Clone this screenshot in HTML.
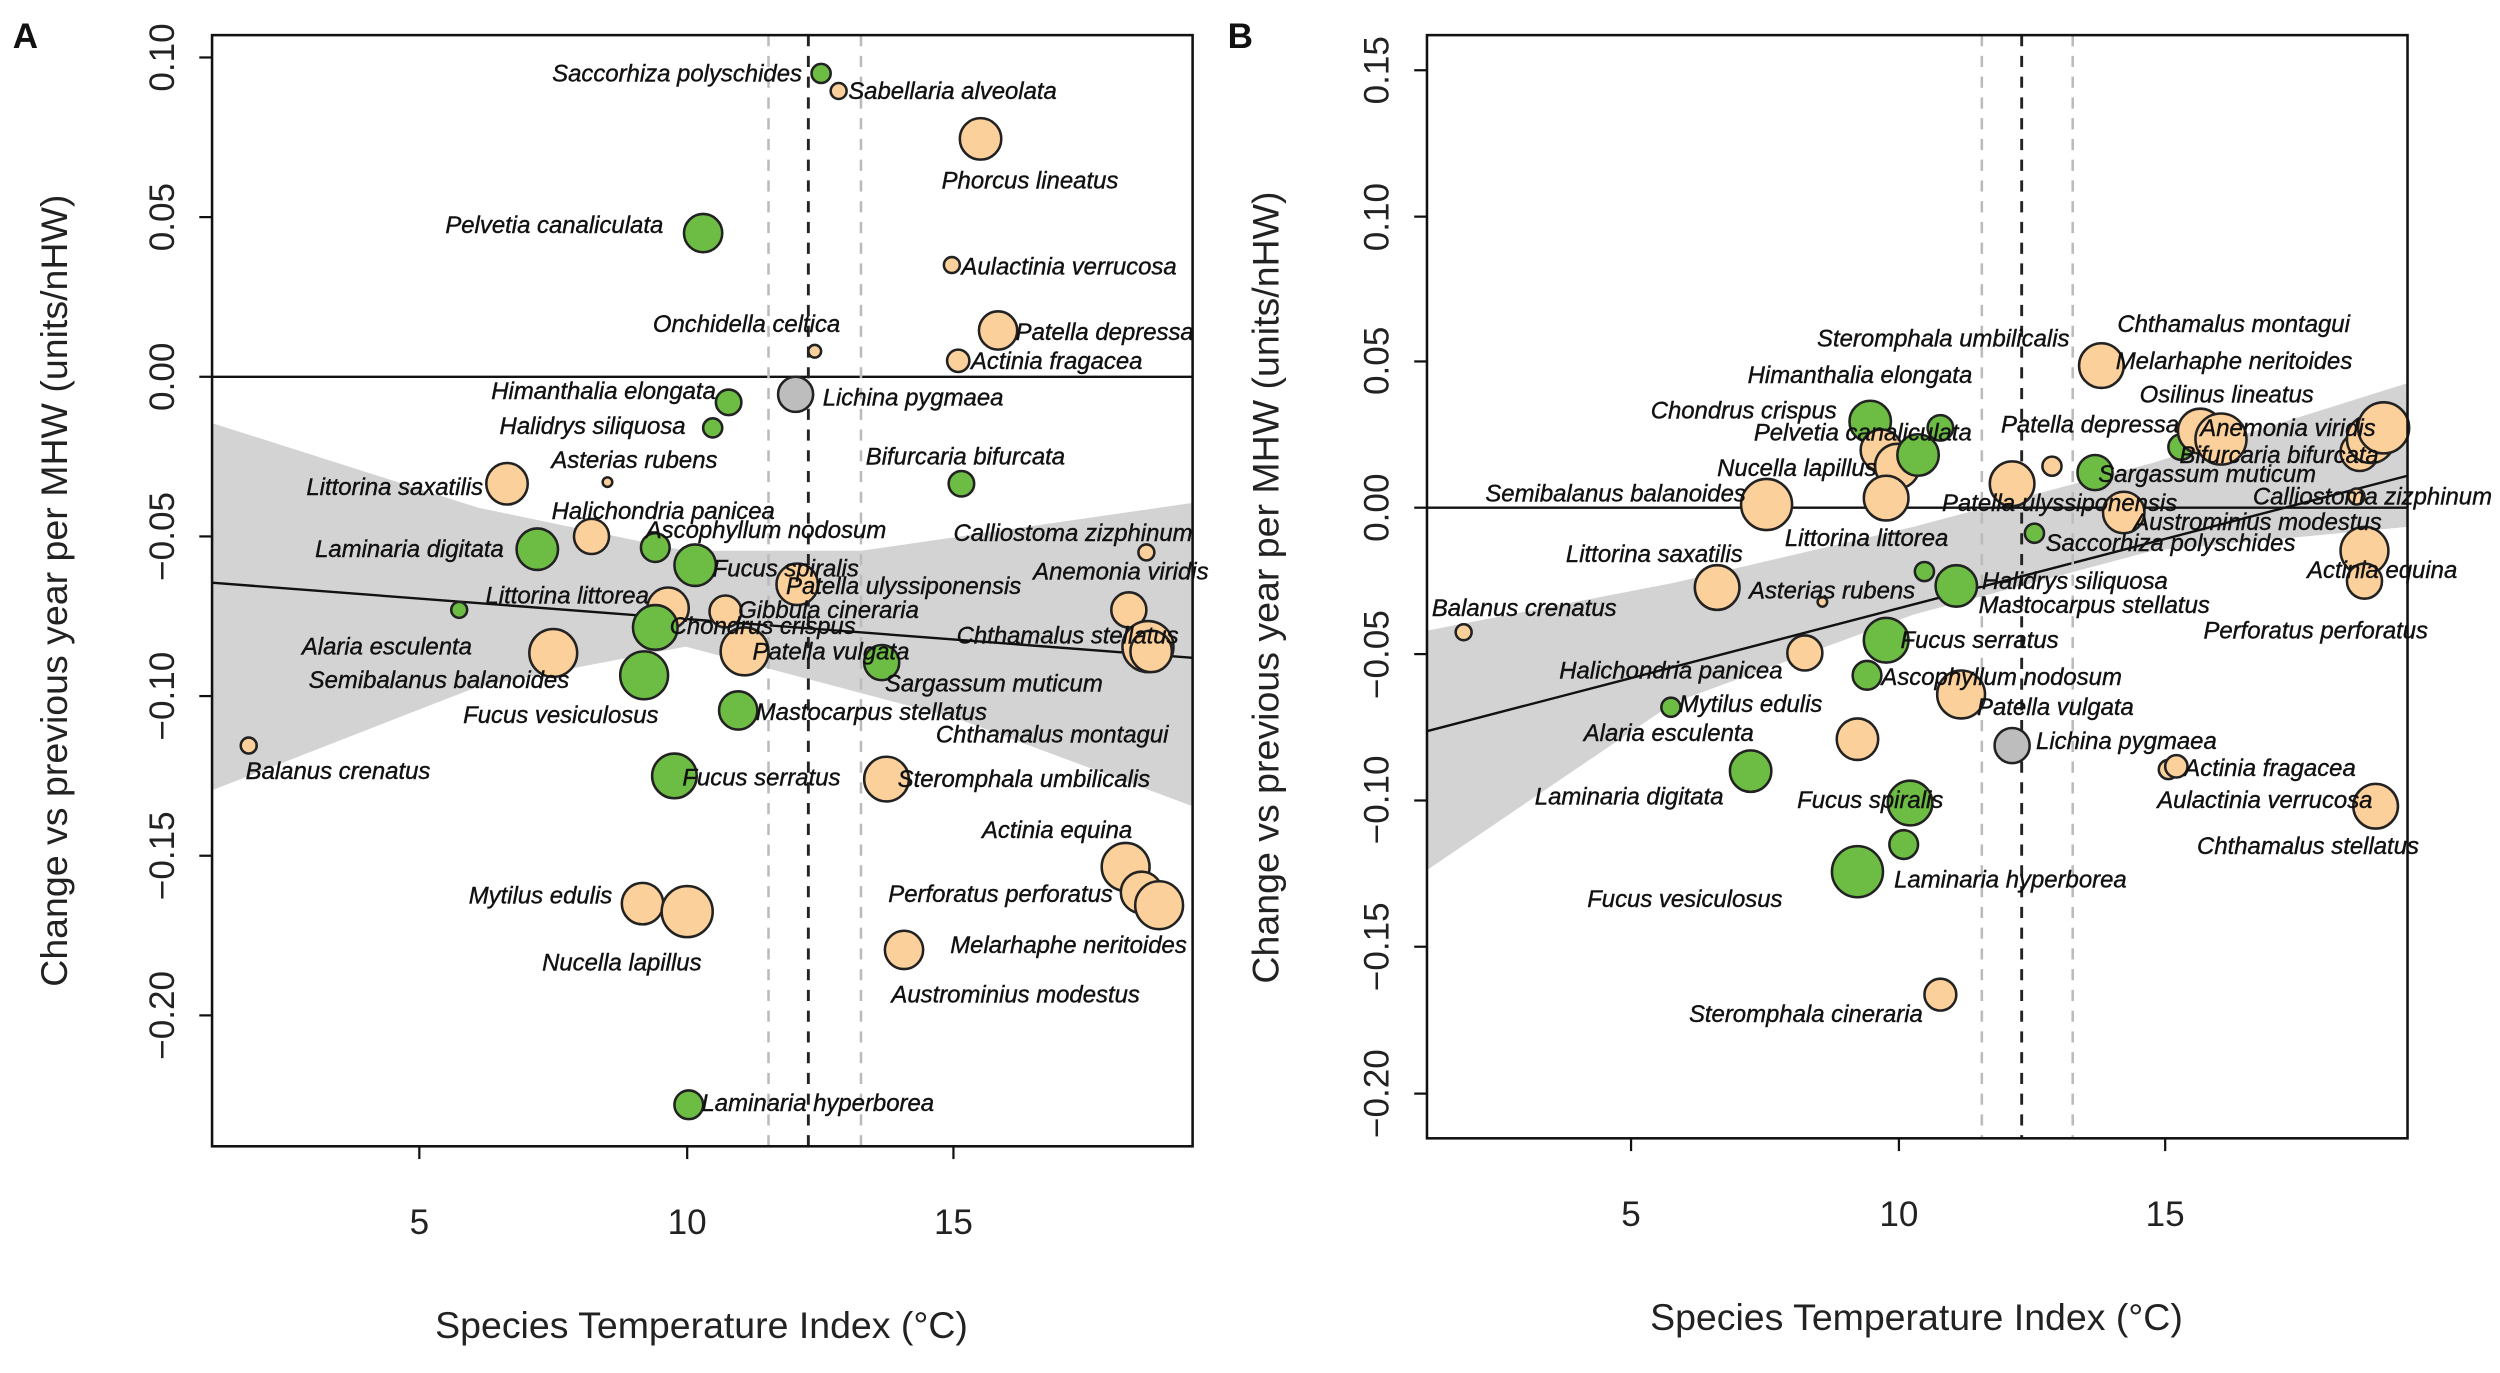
<!DOCTYPE html>
<html><head><meta charset="utf-8"><style>
html,body{margin:0;padding:0;background:#fff;}
svg{display:block;}
.l{font-family:"Liberation Sans",sans-serif;font-style:italic;font-size:15px;fill:#111;stroke:#111;stroke-width:0.25;}
.t{font-family:"Liberation Sans",sans-serif;font-size:22px;fill:#222;}
.a{font-family:"Liberation Sans",sans-serif;font-size:23.5px;fill:#222;}
.o{fill:#fcd09b;stroke:#222;stroke-width:1.6;}
.g{fill:#6dbd45;stroke:#222;stroke-width:1.6;}
.k{fill:#bdbdbd;stroke:#222;stroke-width:1.6;}
</style></head><body>
<svg width="2500" height="1373" viewBox="0 0 1568 860" preserveAspectRatio="none" xmlns="http://www.w3.org/2000/svg">
<rect width="1568" height="860" fill="#fff"/>
<!-- Panel A -->
<text x="8" y="30" font-family="Liberation Sans,sans-serif" font-weight="bold" font-size="22" fill="#111">A</text>
<polygon points="133,265 300,318 430,345 540,345 748,315 748,505 600,450 430,405 300,430 133,495" fill="#d3d3d3"/>
<line x1="133" y1="236" x2="748" y2="236" stroke="#111" stroke-width="1.5"/>
<line x1="133" y1="365" x2="748" y2="412" stroke="#111" stroke-width="1.5"/>
<line x1="482" y1="22" x2="482" y2="718" stroke="#bbb" stroke-width="1.6" stroke-dasharray="7,6"/>
<line x1="540" y1="22" x2="540" y2="718" stroke="#bbb" stroke-width="1.6" stroke-dasharray="7,6"/>
<line x1="507" y1="22" x2="507" y2="718" stroke="#222" stroke-width="1.8" stroke-dasharray="7,6"/>
<g>
<circle class="g" cx="515" cy="46" r="6"/><circle class="o" cx="526" cy="57" r="5"/>
<circle class="o" cx="615" cy="87" r="13"/><circle class="g" cx="441" cy="146" r="12"/>
<circle class="o" cx="597" cy="166" r="5"/><circle class="o" cx="511" cy="220" r="4"/>
<circle class="o" cx="626" cy="207" r="12"/><circle class="o" cx="601" cy="226" r="7"/>
<circle class="k" cx="499" cy="247" r="11"/><circle class="g" cx="457" cy="252" r="8"/>
<circle class="g" cx="447" cy="268" r="6"/><circle class="o" cx="381" cy="302" r="3"/>
<circle class="g" cx="603" cy="303" r="8"/><circle class="o" cx="318" cy="303" r="13"/>
<circle class="o" cx="371" cy="336" r="11"/><circle class="g" cx="411" cy="343" r="9"/>
<circle class="o" cx="719" cy="346" r="5"/><circle class="g" cx="337" cy="344" r="13"/>
<circle class="g" cx="436" cy="354" r="13"/><circle class="o" cx="500" cy="366" r="13"/>
<circle class="o" cx="708" cy="382" r="11"/><circle class="o" cx="419" cy="381" r="13"/>
<circle class="o" cx="455" cy="383" r="10"/><circle class="g" cx="288" cy="382" r="5"/>
<circle class="g" cx="411" cy="393" r="14"/><circle class="o" cx="720" cy="405" r="16"/>
<circle class="o" cx="722" cy="408" r="13"/><circle class="o" cx="347" cy="409" r="15"/>
<circle class="o" cx="467" cy="408" r="15"/><circle class="g" cx="553" cy="415" r="11"/>
<circle class="g" cx="404" cy="423" r="15"/><circle class="g" cx="463" cy="445" r="12"/>
<circle class="o" cx="156" cy="467" r="5"/><circle class="g" cx="423" cy="486" r="14"/>
<circle class="o" cx="556" cy="488" r="14"/><circle class="o" cx="706" cy="543" r="15"/>
<circle class="o" cx="716" cy="559" r="13"/><circle class="o" cx="727" cy="567" r="15"/>
<circle class="o" cx="403" cy="566" r="13"/><circle class="o" cx="431" cy="571" r="16"/>
<circle class="o" cx="567" cy="595" r="12"/><circle class="g" cx="432" cy="692" r="9"/>
</g>
<g class="l">
<text x="503" y="51" text-anchor="end">Saccorhiza polyschides</text>
<text x="532" y="62">Sabellaria alveolata</text>
<text x="646" y="118" text-anchor="middle">Phorcus lineatus</text>
<text x="416" y="146" text-anchor="end">Pelvetia canaliculata</text>
<text x="603" y="172">Aulactinia verrucosa</text>
<text x="527" y="208" text-anchor="end">Onchidella celtica</text>
<text x="637" y="213">Patella depressa</text>
<text x="609" y="231">Actinia fragacea</text>
<text x="516" y="254">Lichina pygmaea</text>
<text x="449" y="250" text-anchor="end">Himanthalia elongata</text>
<text x="430" y="272" text-anchor="end">Halidrys siliquosa</text>
<text x="450" y="293" text-anchor="end">Asterias rubens</text>
<text x="543" y="291">Bifurcaria bifurcata</text>
<text x="303" y="310" text-anchor="end">Littorina saxatilis</text>
<text x="486" y="325" text-anchor="end">Halichondria panicea</text>
<text x="405" y="337">Ascophyllum nodosum</text>
<text x="598" y="339">Calliostoma zizphinum</text>
<text x="316" y="349" text-anchor="end">Laminaria digitata</text>
<text x="447" y="361">Fucus spiralis</text>
<text x="493" y="372">Patella ulyssiponensis</text>
<text x="648" y="363">Anemonia viridis</text>
<text x="407" y="378" text-anchor="end">Littorina littorea</text>
<text x="463" y="387">Gibbula cineraria</text>
<text x="296" y="410" text-anchor="end">Alaria esculenta</text>
<text x="420" y="397">Chondrus crispus</text>
<text x="600" y="403">Chthamalus stellatus</text>
<text x="357" y="431" text-anchor="end">Semibalanus balanoides</text>
<text x="472" y="413">Patella vulgata</text>
<text x="555" y="433">Sargassum muticum</text>
<text x="413" y="453" text-anchor="end">Fucus vesiculosus</text>
<text x="474" y="451">Mastocarpus stellatus</text>
<text x="587" y="465">Chthamalus montagui</text>
<text x="212" y="488" text-anchor="middle">Balanus crenatus</text>
<text x="428" y="492">Fucus serratus</text>
<text x="563" y="493">Steromphala umbilicalis</text>
<text x="663" y="525" text-anchor="middle">Actinia equina</text>
<text x="698" y="565" text-anchor="end">Perforatus perforatus</text>
<text x="384" y="566" text-anchor="end">Mytilus edulis</text>
<text x="390" y="608" text-anchor="middle">Nucella lapillus</text>
<text x="596" y="597">Melarhaphe neritoides</text>
<text x="637" y="628" text-anchor="middle">Austrominius modestus</text>
<text x="440" y="696">Laminaria hyperborea</text>
</g>
<rect x="133" y="22" width="615" height="696" fill="none" stroke="#111" stroke-width="1.6"/>
<g stroke="#111" stroke-width="1.4">
<line x1="125" y1="36" x2="133" y2="36"/><line x1="125" y1="136" x2="133" y2="136"/><line x1="125" y1="236" x2="133" y2="236"/><line x1="125" y1="336" x2="133" y2="336"/><line x1="125" y1="436" x2="133" y2="436"/><line x1="125" y1="536" x2="133" y2="536"/><line x1="125" y1="636" x2="133" y2="636"/>
<line x1="263" y1="718" x2="263" y2="726"/><line x1="431" y1="718" x2="431" y2="726"/><line x1="598" y1="718" x2="598" y2="726"/>
</g>
<g class="t" text-anchor="middle">
<text transform="translate(109,36) rotate(-90)">0.10</text>
<text transform="translate(109,136) rotate(-90)">0.05</text>
<text transform="translate(109,236) rotate(-90)">0.00</text>
<text transform="translate(109,336) rotate(-90)">−0.05</text>
<text transform="translate(109,436) rotate(-90)">−0.10</text>
<text transform="translate(109,536) rotate(-90)">−0.15</text>
<text transform="translate(109,636) rotate(-90)">−0.20</text>
<text x="263" y="773">5</text><text x="431" y="773">10</text><text x="598" y="773">15</text>
</g>
<text class="a" x="440" y="838" text-anchor="middle">Species Temperature Index (°C)</text>
<text class="a" transform="translate(42,370) rotate(-90)" text-anchor="middle">Change vs previous year per MHW (units/nHW)</text>

<!-- Panel B -->
<text x="770" y="30" font-family="Liberation Sans,sans-serif" font-weight="bold" font-size="22" fill="#111">B</text>
<polygon points="895,395 1050,365 1200,330 1350,290 1510,240 1510,330 1350,345 1200,385 1050,440 895,545" fill="#d3d3d3"/>
<line x1="895" y1="318" x2="1510" y2="318" stroke="#111" stroke-width="1.5"/>
<line x1="895" y1="458" x2="1510" y2="298" stroke="#111" stroke-width="1.5"/>
<line x1="1243" y1="22" x2="1243" y2="713" stroke="#bbb" stroke-width="1.6" stroke-dasharray="7,6"/>
<line x1="1300" y1="22" x2="1300" y2="713" stroke="#bbb" stroke-width="1.6" stroke-dasharray="7,6"/>
<line x1="1268" y1="22" x2="1268" y2="713" stroke="#222" stroke-width="1.8" stroke-dasharray="7,6"/>
<g>
<circle class="o" cx="1318" cy="229" r="14"/>
<circle class="g" cx="1173" cy="264" r="13"/><circle class="g" cx="1217" cy="268" r="8"/>
<circle class="o" cx="1480" cy="283" r="12"/><circle class="o" cx="1487" cy="275" r="15"/><circle class="o" cx="1495" cy="268" r="16"/>
<circle class="g" cx="1368" cy="280" r="8"/>
<circle class="o" cx="1380" cy="270" r="14"/><circle class="o" cx="1393" cy="275" r="16"/>
<circle class="o" cx="1180" cy="282" r="13"/><circle class="o" cx="1190" cy="292" r="14"/><circle class="g" cx="1203" cy="285" r="13"/>
<circle class="g" cx="1314" cy="296" r="11"/><circle class="o" cx="1287" cy="292" r="6"/>
<circle class="o" cx="1262" cy="303" r="14"/><circle class="o" cx="1108" cy="316" r="16"/>
<circle class="o" cx="1183" cy="312" r="14"/><circle class="o" cx="1478" cy="311" r="5"/>
<circle class="o" cx="1332" cy="321" r="13"/><circle class="g" cx="1276" cy="334" r="6"/>
<circle class="o" cx="1483" cy="345" r="15"/><circle class="o" cx="1483" cy="364" r="11"/>
<circle class="g" cx="1207" cy="358" r="6"/><circle class="g" cx="1227" cy="367" r="13"/>
<circle class="o" cx="1077" cy="368" r="14"/><circle class="o" cx="1143" cy="377" r="3"/>
<circle class="o" cx="918" cy="396" r="5"/><circle class="g" cx="1183" cy="401" r="14"/>
<circle class="o" cx="1132" cy="409" r="11"/><circle class="g" cx="1171" cy="423" r="9"/>
<circle class="o" cx="1230" cy="435" r="15"/><circle class="g" cx="1048" cy="443" r="6"/>
<circle class="k" cx="1262" cy="467" r="11"/><circle class="o" cx="1165" cy="463" r="13"/>
<circle class="o" cx="1360" cy="482" r="6"/><circle class="o" cx="1365" cy="480" r="7"/>
<circle class="g" cx="1098" cy="483" r="13"/><circle class="o" cx="1490" cy="505" r="14"/>
<circle class="g" cx="1198" cy="503" r="14"/><circle class="g" cx="1194" cy="529" r="9"/>
<circle class="g" cx="1165" cy="546" r="16"/><circle class="o" cx="1217" cy="623" r="10"/>
</g>
<g class="l">
<text x="1298" y="217" text-anchor="end">Steromphala umbilicalis</text>
<text x="1328" y="208">Chthamalus montagui</text>
<text x="1327" y="231">Melarhaphe neritoides</text>
<text x="1237" y="240" text-anchor="end">Himanthalia elongata</text>
<text x="1342" y="252">Osilinus lineatus</text>
<text x="1152" y="262" text-anchor="end">Chondrus crispus</text>
<text x="1100" y="276">Pelvetia canaliculata</text>
<text x="1255" y="271">Patella depressa</text>
<text x="1380" y="273">Anemonia viridis</text>
<text x="1367" y="290">Bifurcaria bifurcata</text>
<text x="1177" y="298" text-anchor="end">Nucella lapillus</text>
<text x="1316" y="302">Sargassum muticum</text>
<text x="1095" y="314" text-anchor="end">Semibalanus balanoides</text>
<text x="1413" y="316">Calliostoma zizphinum</text>
<text x="1218" y="320">Patella ulyssiponensis</text>
<text x="1338" y="332">Austrominius modestus</text>
<text x="1222" y="342" text-anchor="end">Littorina littorea</text>
<text x="1283" y="345">Saccorhiza polyschides</text>
<text x="1093" y="352" text-anchor="end">Littorina saxatilis</text>
<text x="1447" y="362">Actinia equina</text>
<text x="1243" y="369">Halidrys siliquosa</text>
<text x="1097" y="375">Asterias rubens</text>
<text x="1241" y="384">Mastocarpus stellatus</text>
<text x="956" y="386" text-anchor="middle">Balanus crenatus</text>
<text x="1382" y="400">Perforatus perforatus</text>
<text x="1192" y="406">Fucus serratus</text>
<text x="1118" y="425" text-anchor="end">Halichondria panicea</text>
<text x="1180" y="429">Ascophyllum nodosum</text>
<text x="1240" y="448">Patella vulgata</text>
<text x="1143" y="446" text-anchor="end">Mytilus edulis</text>
<text x="1277" y="469">Lichina pygmaea</text>
<text x="1100" y="464" text-anchor="end">Alaria esculenta</text>
<text x="1370" y="486">Actinia fragacea</text>
<text x="1081" y="504" text-anchor="end">Laminaria digitata</text>
<text x="1353" y="506">Aulactinia verrucosa</text>
<text x="1173" y="506" text-anchor="middle">Fucus spiralis</text>
<text x="1378" y="535">Chthamalus stellatus</text>
<text x="1188" y="556">Laminaria hyperborea</text>
<text x="1118" y="568" text-anchor="end">Fucus vesiculosus</text>
<text x="1206" y="640" text-anchor="end">Steromphala cineraria</text>
</g>
<rect x="895" y="22" width="615" height="691" fill="none" stroke="#111" stroke-width="1.6"/>
<g stroke="#111" stroke-width="1.4">
<line x1="887" y1="44" x2="895" y2="44"/><line x1="887" y1="135.7" x2="895" y2="135.7"/><line x1="887" y1="226.4" x2="895" y2="226.4"/><line x1="887" y1="318" x2="895" y2="318"/><line x1="887" y1="409.7" x2="895" y2="409.7"/><line x1="887" y1="501.4" x2="895" y2="501.4"/><line x1="887" y1="593" x2="895" y2="593"/><line x1="887" y1="685" x2="895" y2="685"/>
<line x1="1023" y1="713" x2="1023" y2="721"/><line x1="1191" y1="713" x2="1191" y2="721"/><line x1="1358" y1="713" x2="1358" y2="721"/>
</g>
<g class="t" text-anchor="middle">
<text transform="translate(871,44) rotate(-90)">0.15</text>
<text transform="translate(871,136) rotate(-90)">0.10</text>
<text transform="translate(871,226) rotate(-90)">0.05</text>
<text transform="translate(871,318) rotate(-90)">0.00</text>
<text transform="translate(871,410) rotate(-90)">−0.05</text>
<text transform="translate(871,501) rotate(-90)">−0.10</text>
<text transform="translate(871,593) rotate(-90)">−0.15</text>
<text transform="translate(871,685) rotate(-90)">−0.20</text>
<text x="1023" y="768">5</text><text x="1191" y="768">10</text><text x="1358" y="768">15</text>
</g>
<text class="a" x="1202" y="833" text-anchor="middle">Species Temperature Index (°C)</text>
<text class="a" transform="translate(802,368) rotate(-90)" text-anchor="middle">Change vs previous year per MHW (units/nHW)</text>
</svg>
</body></html>
